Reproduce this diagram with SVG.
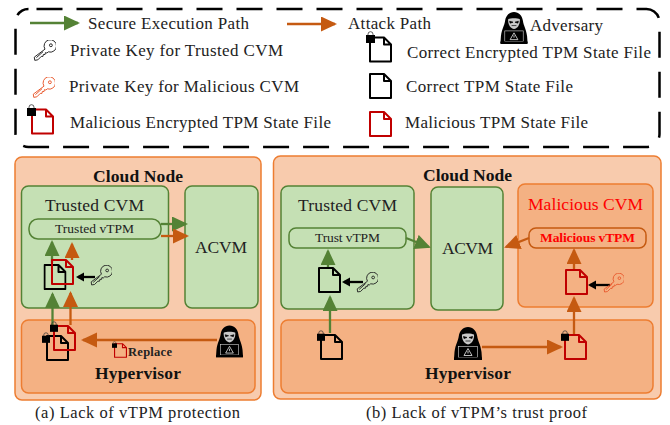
<svg xmlns="http://www.w3.org/2000/svg" width="670" height="425" viewBox="0 0 670 425">
<style>
text{font-family:"Liberation Serif","Times New Roman",serif;fill:#222}
.lg{font-size:17px}
.h{font-size:17.500px;font-weight:bold;fill:#111}
.t{font-size:17.500px}
.s{font-size:13.500px}
.c{font-size:16.500px}
.cloud{fill:#f8cbad;stroke:#ed7d31;stroke-width:1.5}
.vm{fill:#c5e0b4;stroke:#548235;stroke-width:1.5}
.hv{fill:#f4b183;stroke:#ed7d31;stroke-width:1.5}
.pg{fill:#c5e0b4;stroke:#548235;stroke-width:1.5}
.po{fill:#f4b183;stroke:#c55a11;stroke-width:1.5}
.g{stroke:#548235;stroke-width:2.300;fill:none}
.o{stroke:#c55a11;stroke-width:2.300;fill:none}
.k{stroke:#000;stroke-width:2.300;fill:none}
</style>
<defs>
<marker id="mg" markerUnits="userSpaceOnUse" markerWidth="16" markerHeight="16" refX="14" refY="7.5" orient="auto"><path d="M0 0L16 7.5L0 15Z" fill="#548235"/></marker>
<marker id="mo" markerUnits="userSpaceOnUse" markerWidth="16" markerHeight="16" refX="14" refY="7.5" orient="auto"><path d="M0 0L16 7.5L0 15Z" fill="#c55a11"/></marker>
<marker id="mk" markerUnits="userSpaceOnUse" markerWidth="8" markerHeight="10" refX="6" refY="4.5" orient="auto"><path d="M0 0L8 4.5L0 9Z" fill="#000"/></marker>
<symbol id="fk" viewBox="0 0 23 26"><path d="M1 1H15L22 8V25H1ZM15 1V8H22" fill="none" stroke="#000" stroke-width="2" stroke-linejoin="round"/></symbol>
<symbol id="fr" viewBox="0 0 23 26"><path d="M1 1H15L22 8V25H1ZM15 1V8H22" fill="none" stroke="#c00000" stroke-width="2" stroke-linejoin="round"/></symbol>
<symbol id="lock" viewBox="0 0 9 12"><path d="M2 5V3.2a2.5 2.5 0 0 1 5 0V5" fill="none" stroke="#333" stroke-width=".8"/><rect x="0" y="4" width="9" height="8" fill="#000"/></symbol>
<symbol id="kk" viewBox="0 0 24 22"><path d="M12.500 9.600a6.500 6.500 0 1 1 3.500 2.800L14.500 13.700L13 13.200L12.600 15.200L10.800 15.200L10.400 17.200L8.600 17.200L5 20.800L1.800 21.300L1.300 18ZM17.200 5.500a1.500 1.500 0 1 0 3 0a1.500 1.500 0 1 0-3 0M3.500 18.500L10.500 12.200" fill="none" stroke="#222" stroke-width="1"/></symbol>
<symbol id="kr" viewBox="0 0 24 22"><path d="M12.500 9.600a6.500 6.500 0 1 1 3.500 2.800L14.500 13.700L13 13.200L12.600 15.200L10.800 15.200L10.400 17.200L8.600 17.200L5 20.800L1.800 21.300L1.300 18ZM17.200 5.500a1.500 1.500 0 1 0 3 0a1.500 1.500 0 1 0-3 0M3.500 18.500L10.500 12.200" fill="none" stroke="#e8562a" stroke-width="1"/></symbol>
<symbol id="hk" viewBox="0 0 28 33">
<path d="M14 0C9 0 5.500 4 4.800 9C4.200 14 1.500 17 .5 25L0 32H28L27.500 25C26.500 17 23.800 14 23.200 9C22.500 4 19 0 14 0Z" fill="#000"/>
<path d="M8 7.500C10.500 6 17.500 6 20 7.500C20.500 12 18 17 14 17.500C10 17 7.500 12 8 7.500Z" fill="#c9c9c9"/>
<path d="M9.500 9.500L13 10.500L10 11.500ZM18.500 9.500L15 10.500L18 11.500ZM11.500 14H16.500" fill="#000" stroke="#000" stroke-width=".7"/>
<rect x="4.500" y="19.500" width="19" height="11" fill="#000" stroke="#ddd" stroke-width=".6"/>
<path d="M14 21.500L18 28.500H10Z" fill="none" stroke="#eee" stroke-width=".8"/><path d="M14 24V26.500" stroke="#eee" stroke-width=".8"/>
<rect x="0" y="30.500" width="28" height="2.500" fill="#000"/>
</symbol>
</defs>

<g id="legend">
<rect x="15.500" y="9" width="644" height="138" rx="13" fill="#fff" stroke="#000" stroke-width="2.500" stroke-dasharray="26 14" stroke-dashoffset="-8"/>
<line class="g" x1="30" y1="23" x2="78" y2="23" marker-end="url(#mg)"/>
<text class="lg" x="88" y="29" textLength="161">Secure Execution Path</text>
<line class="o" x1="287" y1="24" x2="335" y2="24" marker-end="url(#mo)"/>
<text class="lg" x="348" y="29" textLength="83">Attack Path</text>
<use href="#hk" x="500" y="12" width="28" height="32"/>
<text class="lg" x="530" y="31" textLength="73">Adversary</text>
<use href="#kk" x="33" y="40" width="23" height="21"/>
<text class="lg" x="70" y="56" textLength="213">Private Key for Trusted CVM</text>
<use href="#kr" x="32" y="77" width="23" height="21"/>
<text class="lg" x="69" y="92" textLength="230">Private Key for Malicious CVM</text>
<use href="#fr" x="31" y="108" width="23" height="27"/><use href="#lock" x="27" y="104" width="9" height="12"/>
<text class="lg" x="70" y="128" textLength="261">Malicious Encrypted TPM State File</text>
<use href="#fk" x="369" y="36" width="23" height="27"/><use href="#lock" x="366" y="31" width="9" height="12"/>
<text class="lg" x="407" y="58" textLength="244">Correct Encrypted TPM State File</text>
<use href="#fk" x="369" y="73" width="23" height="26"/>
<text class="lg" x="406" y="92" textLength="167">Correct TPM State File</text>
<use href="#fr" x="369" y="111" width="23" height="26"/>
<text class="lg" x="405" y="128" textLength="183">Malicious TPM State File</text>
</g>

<g id="panel-a">
<rect class="cloud" x="15" y="157" width="246" height="243" rx="7"/>
<text class="h" x="93" y="182" textLength="90">Cloud Node</text>
</g>
<g id="a-trusted-cvm"><rect class="vm" x="21.500" y="186" width="147" height="122" rx="7"/><text class="t" x="45" y="211" textLength="99">Trusted CVM</text></g>
<g id="a-acvm"><rect class="vm" x="185" y="186" width="73" height="122" rx="7"/><text class="t" x="195" y="253" textLength="52">ACVM</text></g>
<g id="a-vtpm"><rect class="pg" x="29" y="219" width="132" height="20" rx="9"/><text class="s" x="55" y="233" textLength="79">Trusted vTPM</text></g>
<g id="a-hypervisor"><rect class="hv" x="21.500" y="320" width="233.500" height="73" rx="7"/><text class="h" x="95" y="379" textLength="86">Hypervisor</text></g>

<g id="panel-b">
<rect class="cloud" x="273.500" y="156" width="387.500" height="243" rx="7"/>
<text class="h" x="423" y="181" textLength="89">Cloud Node</text>
</g>
<g id="b-trusted-cvm"><rect class="vm" x="281" y="186" width="133" height="123" rx="7"/><text class="t" x="298" y="211" textLength="99">Trusted CVM</text></g>
<g id="b-acvm"><rect class="vm" x="431" y="187" width="72" height="123" rx="7"/><text class="t" x="442" y="254" textLength="51">ACVM</text></g>
<g id="b-malicious-cvm"><rect class="hv" x="518" y="184" width="135" height="123" rx="7"/><text class="t" x="528" y="210" textLength="115" style="fill:#f00">Malicious CVM</text></g>
<g id="b-trust-vtpm"><rect class="pg" x="289" y="228" width="117" height="20" rx="7"/><text class="s" x="315" y="242" textLength="65">Trust vTPM</text></g>
<g id="b-malicious-vtpm"><rect class="po" x="529" y="228" width="117" height="20" rx="7"/><text class="s" x="540" y="242" textLength="95" style="fill:#f00;font-weight:bold">Malicious vTPM</text></g>
<g id="b-hypervisor"><rect class="hv" x="281" y="320" width="372" height="73" rx="7"/><text class="h" x="425" y="379" textLength="86">Hypervisor</text></g>

<g id="connectors">
<line class="g" x1="161" y1="224" x2="186" y2="224" marker-end="url(#mg)"/>
<line class="o" x1="161" y1="236" x2="187" y2="236" marker-end="url(#mo)"/>
<line class="g" x1="52" y1="263" x2="52" y2="242" marker-end="url(#mg)"/>
<line class="o" x1="72" y1="260" x2="72" y2="244" marker-end="url(#mo)"/>
<line class="g" x1="52.500" y1="325" x2="52.500" y2="294" marker-end="url(#mg)"/>
<line class="o" x1="70.500" y1="325" x2="70.500" y2="293" marker-end="url(#mo)"/>
<line class="o" x1="217" y1="340" x2="83" y2="340" marker-end="url(#mo)"/>
<line class="k" x1="95" y1="277" x2="78" y2="277" marker-end="url(#mk)"/>
<line class="g" x1="328" y1="267" x2="328" y2="251" marker-end="url(#mg)"/>
<line class="g" x1="330" y1="333" x2="330" y2="297" marker-end="url(#mg)"/>
<line class="k" x1="363" y1="282" x2="344" y2="282" marker-end="url(#mk)"/>
<line class="g" x1="406" y1="238" x2="429" y2="247" marker-end="url(#mg)"/>
<line class="o" x1="529" y1="238" x2="506" y2="247" marker-end="url(#mo)"/>
<line class="o" x1="482" y1="347" x2="561" y2="347" marker-end="url(#mo)"/>
<line class="o" x1="574" y1="334" x2="574" y2="298" marker-end="url(#mo)"/>
<line class="o" x1="574" y1="269" x2="574" y2="250" marker-end="url(#mo)"/>
<line class="k" x1="610" y1="285" x2="590" y2="285" marker-end="url(#mk)"/>
</g>

<g id="a-cvm-files">
<use href="#fk" x="43.500" y="264" width="23" height="26"/>
<use href="#fr" x="51" y="259" width="23" height="26"/>
<use href="#kk" x="90" y="265" width="22" height="21"/>
</g>
<g id="a-hv-files">
<use href="#fk" x="46" y="335" width="23" height="26"/>
<use href="#lock" x="42" y="332" width="8" height="11"/>
<use href="#fr" x="53" y="325" width="23" height="26"/>
<use href="#lock" x="50" y="321" width="8" height="11"/>
</g>
<g id="a-replace">
<use href="#fr" x="114" y="343" width="13" height="15"/>
<use href="#lock" x="112" y="341" width="5" height="7"/>
<text x="128" y="356" textLength="44" style="font-size:12.500px;font-weight:bold">Replace</text>
</g>
<g id="a-adversary"><use href="#hk" x="216" y="325" width="27" height="33"/></g>

<g id="b-cvm-file">
<use href="#fk" x="318" y="267" width="23" height="26"/>
<use href="#kk" x="356" y="272" width="22" height="21"/>
</g>
<g id="b-hv-file"><use href="#fk" x="320" y="334" width="23" height="26"/><use href="#lock" x="317" y="330" width="8" height="11"/></g>
<g id="b-adversary"><use href="#hk" x="454" y="327" width="28" height="33"/></g>
<g id="b-hv-malicious-file"><use href="#fr" x="564" y="334" width="23" height="26"/><use href="#lock" x="561" y="330" width="8" height="11"/></g>
<g id="b-malicious-file">
<use href="#fr" x="565" y="269" width="23" height="26"/>
<use href="#kr" x="603" y="273" width="21" height="20"/>
</g>

<g id="captions">
<text class="c" x="35" y="418" textLength="205">(a) Lack of vTPM protection</text>
<text class="c" x="366" y="418" textLength="221">(b) Lack of vTPM’s trust proof</text>
</g>
</svg>
